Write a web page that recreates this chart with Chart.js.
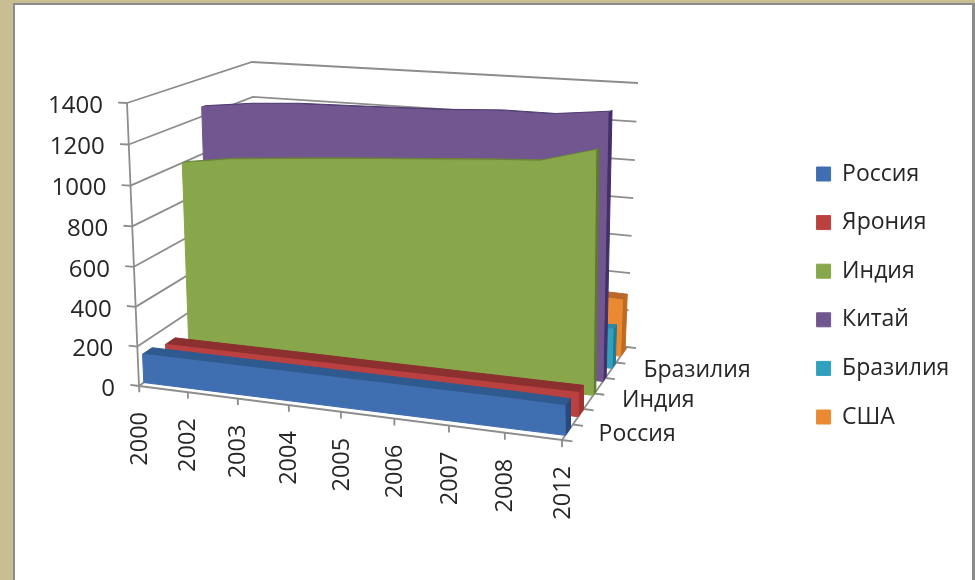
<!DOCTYPE html>
<html lang="ru">
<head>
<meta charset="utf-8">
<style>
html,body{margin:0;padding:0;width:975px;height:580px;overflow:hidden;background:#c8bd93}
#panel{position:absolute;left:13px;top:3px;right:0;bottom:0;background:#fff;border-left:2px solid #8b8b8b;border-top:2px solid #8b8b8b;border-right:3px solid #8b8b8b}
#c{position:absolute;left:0;top:0}
</style>
<script src="https://cdn.jsdelivr.net/npm/chart.js@4"></script>
</head>
<body>
<div id="panel"></div>
<canvas id="c" width="975" height="580"></canvas>
<script>
const years = ['2000','2002','2003','2004','2005','2006','2007','2008','2012'];
const yTicks = [0,200,400,600,800,1000,1200,1400];
const depthLabels = ['Россия','Индия','Бразилия'];
const russia = [145,144,143,142,141,140,139,138,134];
const japan  = [115,115,115,115,114,114,114,114,114];
const india  = [998,1030,1045,1060,1073,1085,1098,1107,1172];
const china  = [1250,1275,1287,1288,1290,1293,1303,1298,1322];
const brazil = [174,176,178,181,184,187,190,193,204];
const usa    = [282,288,290,293,296,298,301,304,300];

const series = [
  {name:'Россия',  values:russia, wl:.04, wr:.05, th:.08, sth:.08, front:'#3f6fb0', top:'#2f5a8f', side:'#264a7c'},
  {name:'Ярония',  values:japan,  wl:.23, wr:.25, th:.08, sth:.08, front:'#bb4040', top:'#8c2f2f', side:'#a03232'},
  {name:'Индия',   values:india,  wl:.42, wr:.48, th:.03, sth:.04, front:'#88a64a', top:'#6b8438', side:'#5f7a2f'},
  {name:'Китай',   values:china,  wl:.59, wr:.63, th:.03, sth:.05, front:'#71568f', top:'#4f3a73', side:'#43306a'},
  {name:'Бразилия',values:brazil, wl:.72, wr:.77, th:.05, sth:.05, front:'#31a0bf', top:'#2a8aa5', side:'#1f7a94'},
  {name:'США',     values:usa,    wl:.86, wr:.90, th:.07, sth:.07, front:'#e98a33', top:'#b8682a', side:'#c06a20'}
];
const MAXV = 1400, Y0 = 386, PXV = 283/1400;
const TICKFONT = 24;
const HALF = TICKFONT*1.2/2; // the value axis keeps half a label of room at both ends
const C = { // projected corners of the 3D box
  flb:[139,386], flt:[127,103], blb:[258,300], blt:[252,62],
  frb:[562,440], frt:[558,118], brb:[627,347], brt:[638,83]
};
const warp = (t,k)=> t*(1-k)/(1-k*t);
function project(i,val,w){
  const u = warp(i/(years.length-1),.087), v = warp(val/MAXV,.03);
  const lerp=(a,b,t)=>[a[0]+(b[0]-a[0])*t,a[1]+(b[1]-a[1])*t];
  const l0=lerp(C.flb,C.blb,w), l1=lerp(C.flt,C.blt,w), r0=lerp(C.frb,C.brb,w), r1=lerp(C.frt,C.brt,w);
  const p=lerp(lerp(l0,l1,v),lerp(r0,r1,v),u);
  return {x:p[0], y:(Y0-p[1])/PXV};
}
const last = years.length-1;
const wAt = (s,i,extra)=> s.wl+(s.wr-s.wl)*i/last+(extra||0);
function polygon(pts,color,edge,order,label){
  return {label:label||'',data:pts.concat([pts[0]]),borderColor:edge,backgroundColor:color,borderWidth:1,pointRadius:0,
          fill:'shape',tension:0,order:order,showLine:true};
}
function stroke(pts,order){
  return {label:'',data:pts,borderColor:'#8d8d8d',backgroundColor:'#8d8d8d',borderWidth:1.8,pointRadius:0,fill:false,tension:0,order:order,showLine:true};
}
const idx = years.map((_,i)=>i);
const datasets = [];
// front faces come first so that the legend follows the series order
series.forEach((s,k)=>{
  const order = 10*(k+1);
  const topEdge = idx.map(i=>project(i,s.values[i],wAt(s,i)));
  const base = idx.slice().reverse().map(i=>project(i,0,wAt(s,i)));
  datasets.push(polygon(topEdge.concat(base),s.front,s.front,order,s.name));
});
series.forEach((s,k)=>{
  const order = 10*(k+1)+1;
  const f = idx.map(i=>project(i,s.values[i],wAt(s,i)));
  const b = idx.slice().reverse().map(i=>project(i,s.values[i],wAt(s,i,s.th)));
  datasets.push(polygon(f.concat(b),s.top,s.top,order));
  datasets.push(polygon([
    project(last,0,wAt(s,last)),project(last,s.values[last],wAt(s,last)),
    project(last,s.values[last],wAt(s,last,s.sth)),project(last,0,wAt(s,last,s.sth))
  ],s.side,s.side,order));
});
// walls, floor edges, tick marks
yTicks.forEach(v=>{
  datasets.push(stroke([project(0,v,0),project(0,v,1),project(last,v,1)],200));
  datasets.push(stroke([project(-.18,v,0),project(0,v,0)],200));
});
datasets.push(stroke([project(0,0,0),project(0,MAXV,0)],200));
datasets.push(stroke([project(0,0,0),project(last,0,0),project(last,0,1)],200));
idx.forEach(i=>datasets.push(stroke([project(i,0,0),project(i,-32,0)],200)));
[0,1,2,3,4,5,6].forEach(k=>datasets.push(stroke([project(last,0,k/6),project(last+.18,0,k/6)],200)));

const FONT = '"Open Sans", "Noto Sans", sans-serif';
const labelsPlugin = {
  id:'labels3d',
  afterLayout(chart){
    const lg = chart.legend, dx = 791-lg.left, dy = 5.5;
    lg.left+=dx; lg.right+=dx; lg.top+=dy; lg.bottom+=dy;
  },
  beforeDraw(chart){
    const ys = chart.scales.y, xs = chart.scales.x;
    ys.getLabelItems().forEach((it,n)=>{
      const p = project(0,ys.ticks[n].value,0);
      it.options.translation[0] = xs.getPixelForValue(p.x)-24;
      it.options.translation[1] = ys.getPixelForValue(p.y)+3;
    });
  },
  afterDatasetsDraw(chart){
    const {ctx} = chart, xs = chart.scales.x, ys = chart.scales.y;
    ctx.save();
    ctx.fillStyle='#262626';
    ctx.font='23.5px '+FONT;
    ctx.textAlign='right'; ctx.textBaseline='middle';
    years.forEach((t,i)=>{
      const p = project(i,0,0);
      ctx.save();
      ctx.translate(xs.getPixelForValue(p.x)+1, ys.getPixelForValue(p.y)+26);
      ctx.rotate(-Math.PI/2);
      ctx.fillText(t,0,0);
      ctx.restore();
    });
    ctx.font='23px '+FONT;
    ctx.textAlign='left';
    const at = [.04,.40,.73];
    depthLabels.forEach((t,k)=>{
      const p = project(last,0,at[k]);
      ctx.fillText(t,xs.getPixelForValue(p.x)+34,ys.getPixelForValue(p.y)-2);
    });
    ctx.restore();
  }
};

new Chart(document.getElementById('c'),{
  type:'line',
  data:{datasets},
  plugins:[labelsPlugin],
  options:{
    responsive:false,animation:false,
    layout:{autoPadding:false,padding:0},
    plugins:{
      tooltip:{enabled:false},
      legend:{
        position:'right',
        labels:{
          color:'#262626',font:{family:FONT,size:23},boxWidth:14,boxHeight:14,padding:25.6,
          filter:item=>!!item.text,
          sort:(a,b)=>a.datasetIndex-b.datasetIndex
        }
      }
    },
    scales:{
      x:{type:'linear',display:false,bounds:'data',afterDataLimits(s){s.min=0;s.max=s.width;}},
      y:{
        type:'linear',position:{x:110},
        min:-(580-HALF-Y0)/PXV,max:(Y0-HALF)/PXV,
        afterBuildTicks(s){s.ticks=yTicks.map(v=>({value:v}));},
        grid:{display:false},border:{display:false},
        ticks:{color:'#262626',font:{family:FONT,size:TICKFONT},autoSkip:false,padding:0,callback:v=>String(v)}
      }
    }
  }
});
</script>
</body>
</html>
